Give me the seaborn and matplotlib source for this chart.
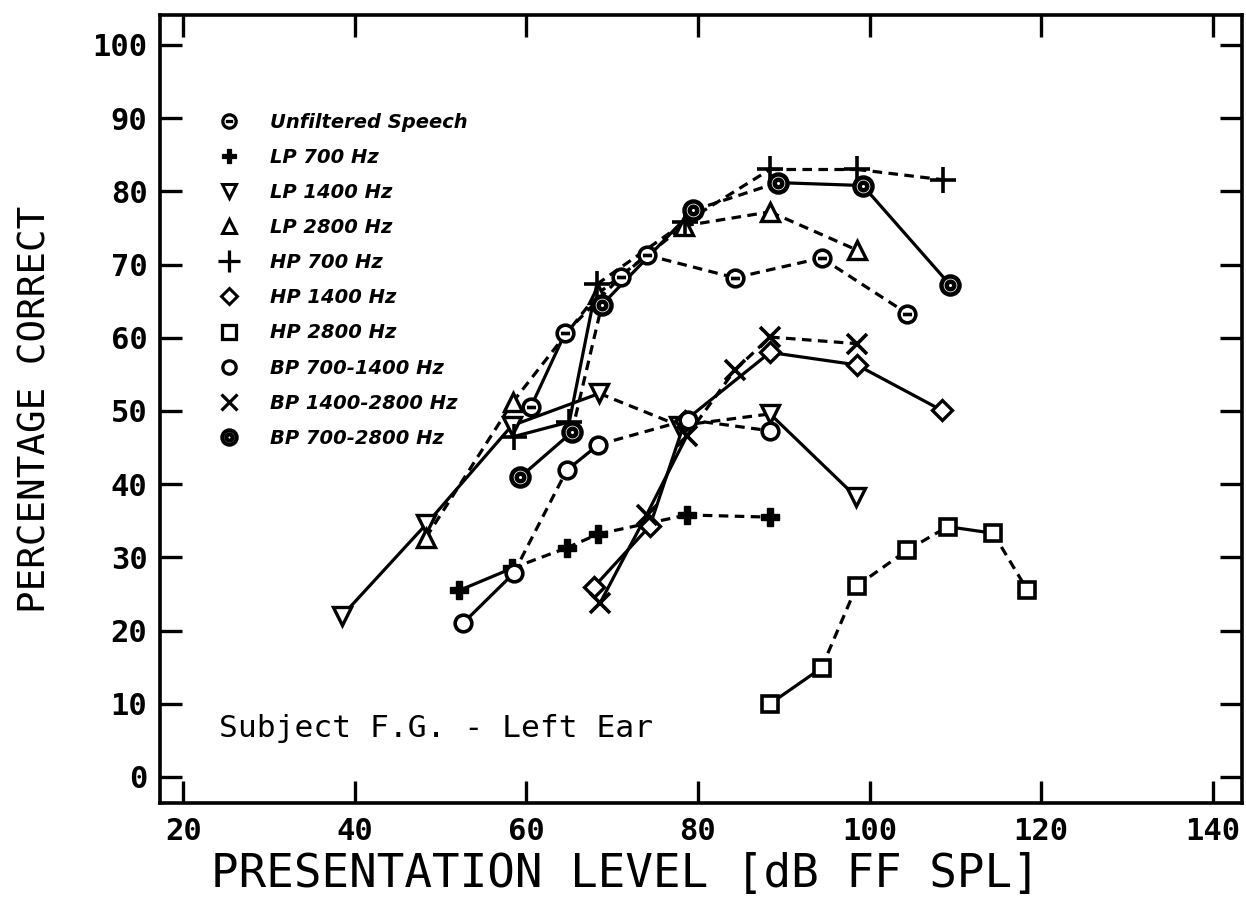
import numpy as np
import pandas as pd
import matplotlib
matplotlib.use("Agg")
import matplotlib.pyplot as plt
import seaborn as sns
from matplotlib.path import Path
from matplotlib.lines import Line2D

# ---------------- data ----------------
series_names = ["Unfiltered Speech", "LP 700 Hz", "LP 1400 Hz", "LP 2800 Hz",
                "HP 700 Hz", "HP 1400 Hz", "HP 2800 Hz",
                "BP 700-1400 Hz", "BP 1400-2800 Hz", "BP 700-2800 Hz"]

unfilt_x = [60.5, 64.5, 71.0, 74.0, 84.3, 94.4, 104.4]
unfilt_y = [50.5, 60.6, 68.3, 71.3, 68.2, 70.9, 63.3]
lp700_x = [52.2, 58.3, 64.7, 68.4, 78.7, 88.4]
lp700_y = [25.5, 28.5, 31.3, 33.2, 35.8, 35.5]
lp1400_x = [38.5, 48.3, 58.3, 68.5, 77.8, 88.4, 98.4]
lp1400_y = [22.0, 34.5, 48.0, 52.4, 48.0, 49.6, 38.3]
lp2800_x = [48.3, 58.4, 68.3, 78.4, 88.4, 98.5]
lp2800_y = [32.7, 51.2, 66.0, 75.3, 77.2, 72.0]
hp700_x = [58.5, 65.0, 68.2, 78.5, 88.4, 98.5, 108.5]
hp700_y = [46.5, 48.5, 67.3, 75.8, 83.0, 83.0, 81.6]
hp1400_x = [67.9, 74.4, 78.5, 88.4, 98.5, 108.4]
hp1400_y = [26.0, 34.3, 48.7, 58.0, 56.3, 50.1]
hp2800_x = [88.4, 94.4, 98.5, 104.4, 109.1, 114.4, 118.4]
hp2800_y = [10.0, 14.9, 26.1, 31.0, 34.2, 33.3, 25.5]
bp7_14_x = [52.6, 58.5, 64.7, 68.4, 78.8, 88.4]
bp7_14_y = [21.0, 27.8, 41.9, 45.4, 48.8, 47.3]
bp14_28_x = [68.6, 74.0, 78.7, 84.3, 88.4, 98.5]
bp14_28_y = [23.8, 35.8, 46.6, 55.6, 60.1, 59.2]
bp7_28_x = [59.3, 65.3, 68.8, 79.4, 89.3, 99.2, 109.4]
bp7_28_y = [41.0, 47.1, 64.5, 77.4, 81.2, 80.8, 67.2]

xs = [unfilt_x, lp700_x, lp1400_x, lp2800_x, hp700_x, hp1400_x, hp2800_x,
      bp7_14_x, bp14_28_x, bp7_28_x]
ys = [unfilt_y, lp700_y, lp1400_y, lp2800_y, hp700_y, hp1400_y, hp2800_y,
      bp7_14_y, bp14_28_y, bp7_28_y]

x_ticks = [20, 40, 60, 80, 100, 120, 140]
y_ticks = [0, 10, 20, 30, 40, 50, 60, 70, 80, 90, 100]
x_label = "PRESENTATION LEVEL [dB FF SPL]"
y_label = "PERCENTAGE CORRECT"
note = "Subject F.G. - Left Ear"

# ---------------- styles ----------------
# line style of each segment between consecutive points (s = solid, d = dashed)
seg_styles = ["sddddd", "sdddd", "sssdds", "ddddd", "ssdddd", "sssss",
              "sdddsd", "sdsdd", "ssdddd", "sdsdss"]

circ = Path.unit_circle()
bar = Path([(-0.55, 0.0), (0.55, 0.0)], [Path.MOVETO, Path.LINETO])
inner = Path(circ.vertices * 0.42, circ.codes)
m_unfilt = Path.make_compound_path(circ, bar)
m_bp728 = Path.make_compound_path(circ, inner)

marker_specs = [
    dict(marker=m_unfilt, ms=12, mew=2.6, mfc="white"),
    dict(marker="P", ms=13, mew=1.0, mfc="black"),
    dict(marker="v", ms=13, mew=2.4, mfc="white"),
    dict(marker="^", ms=13, mew=2.4, mfc="white"),
    dict(marker="+", ms=19, mew=2.6, mfc="white"),
    dict(marker="D", ms=10, mew=2.4, mfc="white"),
    dict(marker="s", ms=12, mew=2.6, mfc="white"),
    dict(marker="o", ms=12, mew=2.6, mfc="white"),
    dict(marker="x", ms=14, mew=2.6, mfc="white"),
    dict(marker=m_bp728, ms=13, mew=3.2, mfc="white"),
]

# ---------------- build segment table ----------------
rows = []
seg_id = 0
for name, sx, sy, st in zip(series_names, xs, ys, seg_styles):
    for i in range(len(sx) - 1):
        ls = "solid" if st[i] == "s" else "dashed"
        rows.append(dict(series=name, seg=seg_id, ls=ls, x=sx[i], y=sy[i]))
        rows.append(dict(series=name, seg=seg_id, ls=ls, x=sx[i + 1], y=sy[i + 1]))
        seg_id += 1
segs = pd.DataFrame(rows)

sns.set_theme(style="white")
plt.rcParams["font.family"] = ["DejaVu Sans"]
plt.rcParams["text.color"] = "black"
plt.rcParams["axes.labelcolor"] = "black"
plt.rcParams["xtick.color"] = "black"
plt.rcParams["ytick.color"] = "black"

fig = plt.figure(figsize=(12.46, 9.13), dpi=100)
ax = fig.add_axes([0.1284, 0.1205, 0.8684, 0.8631])

sns.lineplot(data=segs, x="x", y="y", units="seg", style="ls", estimator=None,
             dashes={"solid": "", "dashed": (3.0, 2.0)}, color="black",
             linewidth=2.3, sort=False, legend=False, ax=ax)

for name, sx, sy, spec in zip(series_names, xs, ys, marker_specs):
    sns.lineplot(x=sx, y=sy, linestyle="", color="black", marker=spec["marker"],
                 markersize=spec["ms"], markeredgewidth=spec["mew"],
                 markerfacecolor=spec["mfc"], markeredgecolor="black",
                 estimator=None, sort=False, ax=ax, zorder=5)

# ---------------- axes ----------------
ax.set_xlim(17.3, 143.4)
ax.set_ylim(-3.55, 104.1)
ax.set_xticks(x_ticks)
ax.set_yticks(y_ticks)
ax.set_xticklabels([str(v) for v in x_ticks])
ax.set_yticklabels([str(v) for v in y_ticks])
for sp in ax.spines.values():
    sp.set_visible(True)
    sp.set_linewidth(2.6)
    sp.set_color("black")
ax.tick_params(axis="both", which="major", direction="in", length=16, width=2.4,
               top=True, right=True, bottom=True, left=True, color="black")
ax.tick_params(axis="x", pad=10)
ax.tick_params(axis="y", pad=9)
for lab in ax.get_xticklabels() + ax.get_yticklabels():
    lab.set_fontfamily("DejaVu Sans Mono")
    lab.set_fontweight("bold")
    lab.set_fontsize(22)
    lab.set_color("black")

ax.set_xlabel(x_label, fontsize=33, color="black", fontfamily="DejaVu Sans Mono")
ax.xaxis.set_label_coords(0.43, -0.062)
ax.set_ylabel(y_label, fontsize=27, labelpad=28, color="black",
              fontfamily="DejaVu Sans Mono")
ax.grid(False)

ax.text(0.055, 0.095, note, transform=ax.transAxes, fontsize=22.5, color="black",
        ha="left", va="center", fontfamily="DejaVu Sans Mono")

handles = [Line2D([], [], linestyle="", color="black", marker=s["marker"],
                  markersize=s["ms"] * 0.8, markeredgewidth=s["mew"] * 0.9,
                  markerfacecolor=s["mfc"], markeredgecolor="black")
           for s in marker_specs]
leg = ax.legend(handles, series_names, loc="upper left",
                bbox_to_anchor=(0.046, 0.886), frameon=False,
                handlelength=1.2, handletextpad=1.5, labelspacing=0.83,
                borderaxespad=0,
                prop=dict(family="DejaVu Sans", weight="bold", style="italic", size=14))
for t in leg.get_texts():
    t.set_color("black")

fig.savefig("out.png", dpi=100, facecolor="white")
